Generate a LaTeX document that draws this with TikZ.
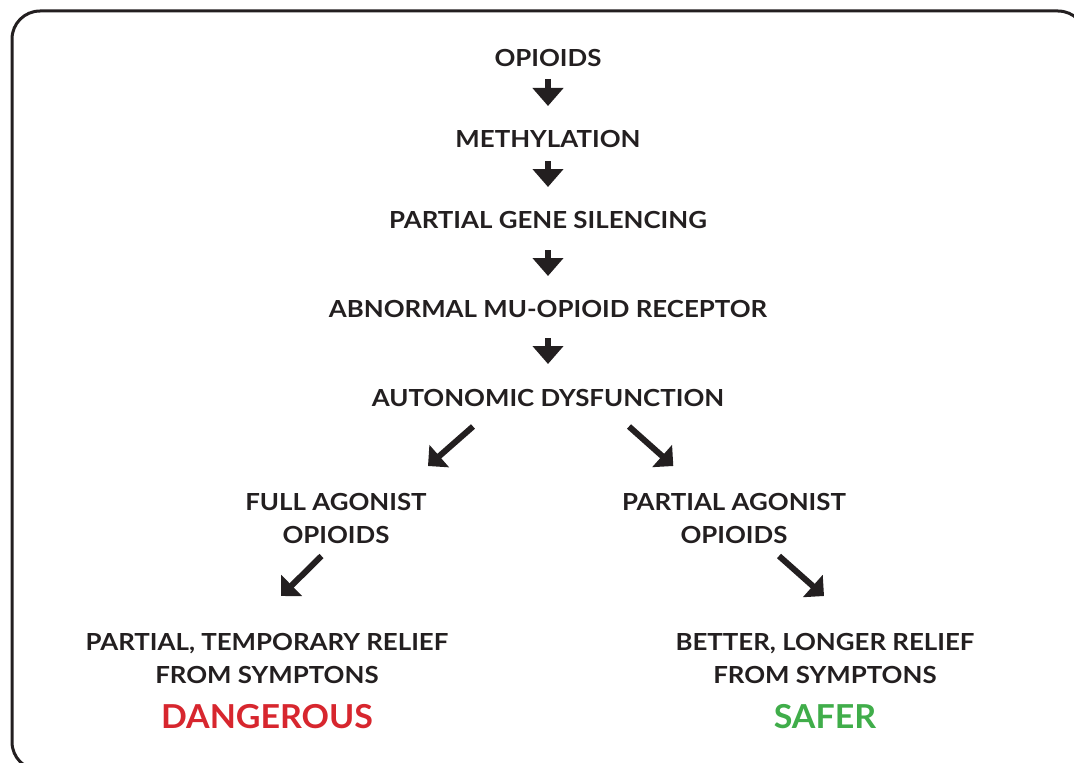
\documentclass[tikz,border=0pt]{standalone}
\usepackage{fontspec}
\setmainfont{Lato}[FakeStretch=1.1]
\newfontfamily\verdictfont{Lato}[FakeStretch=1.03]
\usetikzlibrary{arrows.meta}
\definecolor{ink}{HTML}{231F20}
\definecolor{dangerred}{HTML}{D7262E}
\definecolor{safegreen}{HTML}{40AD4A}
\tikzset{
  frame/.style={draw=ink, line width=3bp, rounded corners=28bp},
  lbl/.style={font=\bfseries\fontsize{23.5bp}{33bp}\selectfont, text=ink,
    inner sep=0pt, align=center, anchor=base},
  verdict/.style={font=\verdictfont\bfseries\fontsize{33bp}{36bp}\selectfont,
    inner sep=0pt, anchor=base},
  downarrow/.style={draw=ink, line width=6bp,
    -{Triangle[width=30bp,length=18bp]}},
  diagarrow/.style={draw=ink, line width=6bp,
    -{Triangle[width=29bp,length=15bp]}},
}
\begin{document}
\begin{tikzpicture}[x=1bp, y=-1bp]
\useasboundingbox (0,0) rectangle (1074,763);
\draw[frame] (12,11) rectangle (1086,770);

% main chain (nodes sit on their baselines)
\node[lbl] (op) at (548,66.5) {OPIOIDS};
\node[lbl] (me) at (548,147.5) {METHYLATION};
\node[lbl] (pg) at (548,228.5) {PARTIAL GENE SILENCING};
\node[lbl] (ab) at (548,317) {ABNORMAL MU-OPIOID RECEPTOR};
\node[lbl] (au) at (548,406.5) {AUTONOMIC DYSFUNCTION};

% two branches (base = baseline of the last line)
\node[lbl] (fa) at (336,543.5) {FULL AGONIST\\OPIOIDS};
\node[lbl] (pa) at (734,543.5) {PARTIAL AGONIST\\OPIOIDS};
\node[lbl] (pt) at (267,683.5) {PARTIAL, TEMPORARY RELIEF\\FROM SYMPTONS};
\node[lbl] (bl) at (825,683.5) {BETTER, LONGER RELIEF\\FROM SYMPTONS};
\node[verdict, text=dangerred] (dg) at (267,728) {DANGEROUS};
\node[verdict, text=safegreen] (sf) at (825,728) {SAFER};

% vertical arrows
\draw[downarrow] ([yshift=-12.5bp]op.base) -- ([yshift=41.5bp]me.base);
\draw[downarrow] ([yshift=-13.5bp]me.base) -- ([yshift=41.5bp]pg.base);
\draw[downarrow] ([yshift=-21.5bp]pg.base) -- ([yshift=41bp]ab.base);
\draw[downarrow] ([yshift=-21bp]ab.base) -- ([yshift=42.5bp]au.base);

% diagonal arrows
\draw[diagarrow] ([xshift=-75bp,yshift=-20bp]au.base) -- ([xshift=92bp,yshift=77.5bp]fa.base);
\draw[diagarrow] ([xshift=81bp,yshift=-20bp]au.base) -- ([xshift=-60.7bp,yshift=77.5bp]pa.base);
\draw[diagarrow] ([xshift=-14.5bp,yshift=-12.5bp]fa.base) -- ([xshift=14bp,yshift=87.5bp]pt.base);
\draw[diagarrow] ([xshift=45bp,yshift=-12.5bp]pa.base) -- ([xshift=-1bp,yshift=87.5bp]bl.base);
\end{tikzpicture}
\end{document}
